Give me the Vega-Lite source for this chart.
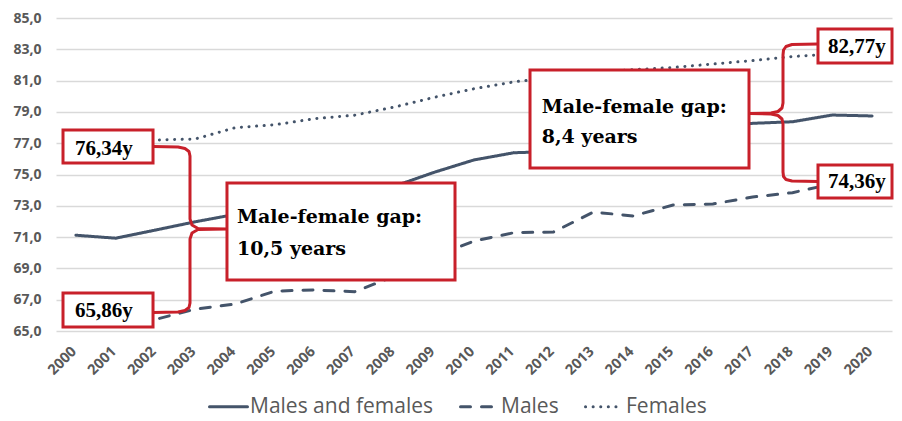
{
  "$schema": "https://vega.github.io/schema/vega-lite/v6.json",
  "width": 836,
  "height": 313,
  "autosize": {"type": "none"},
  "padding": {"left": 56, "top": 18, "right": 10, "bottom": 90},
  "config": {
    "view": {"stroke": null},
    "axis": {"labelFont": "Open Sans", "labelColor": "#595959", "labelFontWeight": "bold", "ticks": false, "domain": false, "title": null}
  },
  "datasets": {
    "series": [
      {"year": 2000, "value": 71.12, "series": "Males and females"},
      {"year": 2001, "value": 70.93, "series": "Males and females"},
      {"year": 2002, "value": 71.45, "series": "Males and females"},
      {"year": 2003, "value": 71.98, "series": "Males and females"},
      {"year": 2004, "value": 72.45, "series": "Males and females"},
      {"year": 2005, "value": 72.9, "series": "Males and females"},
      {"year": 2006, "value": 73.35, "series": "Males and females"},
      {"year": 2007, "value": 73.8, "series": "Males and females"},
      {"year": 2008, "value": 74.25, "series": "Males and females"},
      {"year": 2009, "value": 75.14, "series": "Males and females"},
      {"year": 2010, "value": 75.93, "series": "Males and females"},
      {"year": 2011, "value": 76.39, "series": "Males and females"},
      {"year": 2012, "value": 76.47, "series": "Males and females"},
      {"year": 2013, "value": 76.9, "series": "Males and females"},
      {"year": 2014, "value": 77.3, "series": "Males and females"},
      {"year": 2015, "value": 77.7, "series": "Males and females"},
      {"year": 2016, "value": 78.0, "series": "Males and females"},
      {"year": 2017, "value": 78.27, "series": "Males and females"},
      {"year": 2018, "value": 78.37, "series": "Males and females"},
      {"year": 2019, "value": 78.8, "series": "Males and females"},
      {"year": 2020, "value": 78.74, "series": "Males and females"},
      {"year": 2000, "value": 65.6, "series": "Males"},
      {"year": 2001, "value": 65.5, "series": "Males"},
      {"year": 2002, "value": 65.74, "series": "Males"},
      {"year": 2003, "value": 66.4, "series": "Males"},
      {"year": 2004, "value": 66.72, "series": "Males"},
      {"year": 2005, "value": 67.55, "series": "Males"},
      {"year": 2006, "value": 67.62, "series": "Males"},
      {"year": 2007, "value": 67.51, "series": "Males"},
      {"year": 2008, "value": 68.5, "series": "Males"},
      {"year": 2009, "value": 69.74, "series": "Males"},
      {"year": 2010, "value": 70.75, "series": "Males"},
      {"year": 2011, "value": 71.28, "series": "Males"},
      {"year": 2012, "value": 71.33, "series": "Males"},
      {"year": 2013, "value": 72.6, "series": "Males"},
      {"year": 2014, "value": 72.35, "series": "Males"},
      {"year": 2015, "value": 73.05, "series": "Males"},
      {"year": 2016, "value": 73.12, "series": "Males"},
      {"year": 2017, "value": 73.56, "series": "Males"},
      {"year": 2018, "value": 73.84, "series": "Males"},
      {"year": 2019, "value": 74.4, "series": "Males"},
      {"year": 2020, "value": 74.45, "series": "Males"},
      {"year": 2000, "value": 76.9, "series": "Females"},
      {"year": 2001, "value": 77.05, "series": "Females"},
      {"year": 2002, "value": 77.2, "series": "Females"},
      {"year": 2003, "value": 77.27, "series": "Females"},
      {"year": 2004, "value": 77.99, "series": "Females"},
      {"year": 2005, "value": 78.18, "series": "Females"},
      {"year": 2006, "value": 78.57, "series": "Females"},
      {"year": 2007, "value": 78.79, "series": "Females"},
      {"year": 2008, "value": 79.31, "series": "Females"},
      {"year": 2009, "value": 79.93, "series": "Females"},
      {"year": 2010, "value": 80.48, "series": "Females"},
      {"year": 2011, "value": 80.92, "series": "Females"},
      {"year": 2012, "value": 81.2, "series": "Females"},
      {"year": 2013, "value": 81.5, "series": "Females"},
      {"year": 2014, "value": 81.7, "series": "Females"},
      {"year": 2015, "value": 81.84, "series": "Females"},
      {"year": 2016, "value": 82.06, "series": "Females"},
      {"year": 2017, "value": 82.28, "series": "Females"},
      {"year": 2018, "value": 82.54, "series": "Females"},
      {"year": 2019, "value": 82.7, "series": "Females"},
      {"year": 2020, "value": 82.65, "series": "Females"}
    ],
    "braces": [
      {"brace": "a", "order": 1, "year": 2001.937, "value": 76.789},
      {"brace": "a", "order": 2, "year": 2002.565, "value": 76.757},
      {"brace": "a", "order": 3, "year": 2002.74, "value": 76.661},
      {"brace": "a", "order": 4, "year": 2002.841, "value": 76.47},
      {"brace": "a", "order": 5, "year": 2002.866, "value": 76.182},
      {"brace": "a", "order": 6, "year": 2002.866, "value": 72.157},
      {"brace": "a", "order": 7, "year": 2002.916, "value": 71.773},
      {"brace": "a", "order": 8, "year": 2003.067, "value": 71.55},
      {"brace": "a", "order": 9, "year": 2003.795, "value": 71.518},
      {"brace": "a", "order": 10, "year": 2003.067, "value": 71.486},
      {"brace": "a", "order": 11, "year": 2002.916, "value": 71.262},
      {"brace": "a", "order": 12, "year": 2002.866, "value": 70.879},
      {"brace": "a", "order": 13, "year": 2002.866, "value": 66.789},
      {"brace": "a", "order": 14, "year": 2002.841, "value": 66.502},
      {"brace": "a", "order": 15, "year": 2002.74, "value": 66.31},
      {"brace": "a", "order": 16, "year": 2002.565, "value": 66.214},
      {"brace": "a", "order": 17, "year": 2001.937, "value": 66.182},
      {"brace": "b", "order": 1, "year": 2018.641, "value": 83.339},
      {"brace": "b", "order": 2, "year": 2017.988, "value": 83.307},
      {"brace": "b", "order": 3, "year": 2017.837, "value": 83.179},
      {"brace": "b", "order": 4, "year": 2017.775, "value": 82.955},
      {"brace": "b", "order": 5, "year": 2017.762, "value": 82.636},
      {"brace": "b", "order": 6, "year": 2017.762, "value": 79.569},
      {"brace": "b", "order": 7, "year": 2017.737, "value": 79.249},
      {"brace": "b", "order": 8, "year": 2017.636, "value": 79.026},
      {"brace": "b", "order": 9, "year": 2017.461, "value": 78.93},
      {"brace": "b", "order": 10, "year": 2016.933, "value": 78.9},
      {"brace": "b", "order": 11, "year": 2017.461, "value": 78.866},
      {"brace": "b", "order": 12, "year": 2017.636, "value": 78.77},
      {"brace": "b", "order": 13, "year": 2017.737, "value": 78.546},
      {"brace": "b", "order": 14, "year": 2017.762, "value": 78.227},
      {"brace": "b", "order": 15, "year": 2017.762, "value": 75.16},
      {"brace": "b", "order": 16, "year": 2017.775, "value": 74.872},
      {"brace": "b", "order": 17, "year": 2017.837, "value": 74.681},
      {"brace": "b", "order": 18, "year": 2017.988, "value": 74.585},
      {"brace": "b", "order": 19, "year": 2018.641, "value": 74.553}
    ],
    "boxes": [
      {"year": 1999.676, "year2": 2001.937, "value": 77.843, "value2": 75.735},
      {"year": 1999.676, "year2": 2001.937, "value": 67.428, "value2": 65.256},
      {"year": 2003.795, "year2": 2009.523, "value": 74.457, "value2": 68.259},
      {"year": 2011.407, "year2": 2016.908, "value": 81.677, "value2": 75.415},
      {"year": 2018.641, "year2": 2020.5, "value": 84.297, "value2": 82.125},
      {"year": 2018.641, "year2": 2020.5, "value": 75.607, "value2": 73.498}
    ],
    "tags": [
      {"year": 1999.977, "value": 76.246, "label": "76,34y"},
      {"year": 1999.977, "value": 65.895, "label": "65,86y"},
      {"year": 2018.892, "value": 82.743, "label": "82,77y"},
      {"year": 2018.892, "value": 74.116, "label": "74,36y"}
    ],
    "gaps": [
      {"year": 2004.047, "value": 71.882, "label": "Male-female gap:"},
      {"year": 2004.047, "value": 69.856, "label": "10,5 years"},
      {"year": 2011.7, "value": 78.91, "label": "Male-female gap:"},
      {"year": 2011.7, "value": 76.99, "label": "8,4 years"}
    ]
  },
  "encoding": {
    "x": {
      "field": "year", "type": "quantitative", "title": null,
      "scale": {"domain": [1999.5, 2020.5], "nice": false, "zero": false},
      "axis": {"values": [2000,2001,2002,2003,2004,2005,2006,2007,2008,2009,2010,2011,2012,2013,2014,2015,2016,2017,2018,2019,2020], "format": "d", "labelAngle": -45, "labelAlign": "right", "labelBaseline": "middle", "labelPadding": 18, "labelOffset": -2, "labelFontSize": 14.5, "grid": false, "labelFlush": false, "labelOverlap": false}
    },
    "y": {
      "field": "value", "type": "quantitative", "title": null,
      "scale": {"domain": [65, 85], "nice": false, "zero": false},
      "axis": {"values": [65,67,69,71,73,75,77,79,81,83,85], "labelExpr": "replace(format(datum.value, '.1f'), '.', ',')", "labelFontSize": 14, "labelPadding": 15, "labelOverlap": false, "labelFlush": false, "labelBound": false, "labelSeparation": 0, "grid": true, "gridColor": "#D9D9D9", "gridWidth": 1.3}
    }
  },
  "layer": [
    {
      "data": {"name": "series"},
      "mark": {"type": "line", "strokeWidth": 3, "strokeCap": "round", "color": "#44546A"},
      "encoding": {
        "strokeDash": {
          "field": "series", "type": "nominal", "title": null,
          "scale": {"domain": ["Males and females", "Males", "Females"], "range": [[1, 0], [10, 11], [0.1, 7.5]]},
          "legend": {"orient": "none", "legendX": 152, "legendY": 368, "direction": "horizontal", "symbolType": "stroke", "symbolSize": 1444, "symbolStrokeWidth": 3, "symbolStrokeColor": "#44546A", "labelFont": "Open Sans", "labelFontSize": 21, "labelColor": "#595959", "labelOffset": 1, "columnPadding": 20, "labelLimit": 400,
            "encode": {"symbols": {"update": {"strokeCap": {"value": "round"}}}}}
        },
        "detail": {"field": "series"}
      }
    },
    {
      "data": {"name": "braces"},
      "mark": {"type": "line", "strokeWidth": 3, "color": "#C8202A", "strokeJoin": "round"},
      "encoding": {
        "detail": {"field": "brace"},
        "order": {"field": "order", "type": "quantitative"}
      }
    },
    {
      "data": {"name": "boxes"},
      "mark": {"type": "rect", "fill": "white", "stroke": "#C8202A", "strokeWidth": 3},
      "encoding": {
        "x2": {"field": "year2"},
        "y2": {"field": "value2"}
      }
    },
    {
      "data": {"name": "tags"},
      "mark": {"type": "text", "font": "Liberation Serif", "fontWeight": "bold", "fontSize": 21, "align": "left", "baseline": "alphabetic", "color": "#000000"},
      "encoding": {
        "text": {"field": "label"}
      }
    },
    {
      "data": {"name": "gaps"},
      "mark": {"type": "text", "font": "DejaVu Serif", "fontWeight": "bold", "fontSize": 19, "align": "left", "baseline": "alphabetic", "color": "#000000"},
      "encoding": {
        "text": {"field": "label"}
      }
    }
  ]
}
